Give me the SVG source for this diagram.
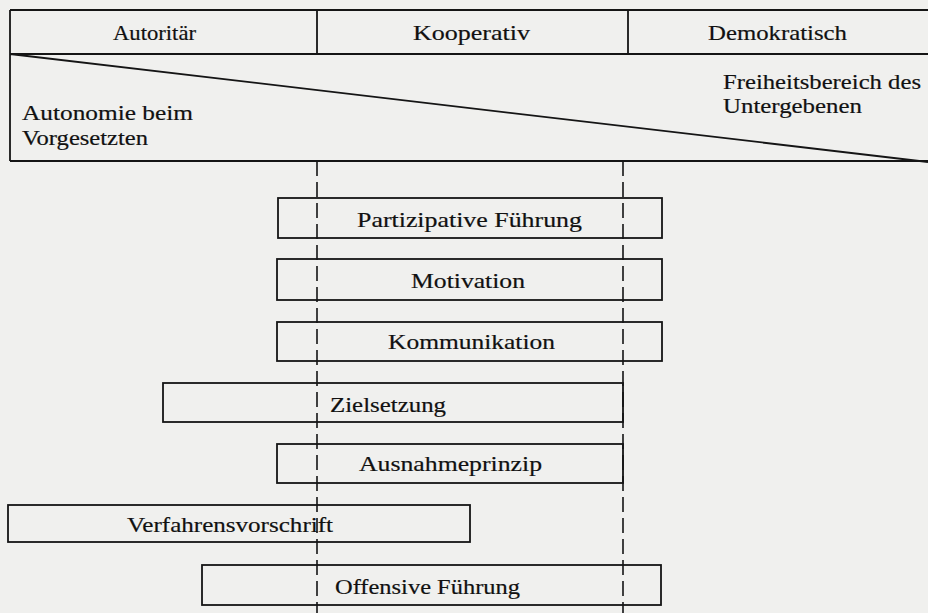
<svg xmlns="http://www.w3.org/2000/svg" width="928" height="613" viewBox="0 0 928 613">
<style>
.ln{stroke:#151515;stroke-width:1.8;fill:none}
.box{stroke:#151515;stroke-width:1.8;fill:none}
.dash{stroke:#151515;stroke-width:1.6;fill:none;stroke-dasharray:15 6}
text{font-family:"Liberation Serif","Times New Roman",serif;font-size:22px;fill:#111;stroke:#111;stroke-width:0.2}
</style>
<rect x="0" y="0" width="928" height="613" fill="#f0f0ee"/>
<g id="frame">
<path class="ln" d="M10,10 H928 M10,54 H928 M10,161 H928 M10,10 V161 M317,10 V54 M628,10 V54 M10,54 L928,162"/>
</g>
<g id="header-autoritaer"><text x="113" y="40" textLength="83" lengthAdjust="spacingAndGlyphs">Autoritär</text></g>
<g id="header-kooperativ"><text x="413" y="40" textLength="117" lengthAdjust="spacingAndGlyphs">Kooperativ</text></g>
<g id="header-demokratisch"><text x="708" y="40" textLength="139" lengthAdjust="spacingAndGlyphs">Demokratisch</text></g>
<g id="label-autonomie">
<text x="22" y="120" textLength="171" lengthAdjust="spacingAndGlyphs">Autonomie beim</text>
<text x="22" y="145" textLength="126" lengthAdjust="spacingAndGlyphs">Vorgesetzten</text>
</g>
<g id="label-freiheit">
<text x="723" y="89" textLength="198" lengthAdjust="spacingAndGlyphs">Freiheitsbereich des</text>
<text x="723" y="113" textLength="139" lengthAdjust="spacingAndGlyphs">Untergebenen</text>
</g>
<g id="connectors">
<line class="dash" x1="317" y1="161" x2="317" y2="613"/>
<line class="dash" x1="623" y1="161" x2="623" y2="613"/>
</g>
<g id="node-partizipative">
<rect class="box" x="278" y="198" width="384" height="40"/>
<text x="357" y="227" textLength="225" lengthAdjust="spacingAndGlyphs">Partizipative Führung</text>
</g>
<g id="node-motivation">
<rect class="box" x="277" y="259" width="385" height="41"/>
<text x="411" y="288" textLength="114" lengthAdjust="spacingAndGlyphs">Motivation</text>
</g>
<g id="node-kommunikation">
<rect class="box" x="277" y="322" width="385" height="39"/>
<text x="388" y="349" textLength="167" lengthAdjust="spacingAndGlyphs">Kommunikation</text>
</g>
<g id="node-zielsetzung">
<rect class="box" x="163" y="383" width="460" height="39"/>
<text x="330" y="412" textLength="116" lengthAdjust="spacingAndGlyphs">Zielsetzung</text>
</g>
<g id="node-ausnahmeprinzip">
<rect class="box" x="277" y="444" width="346" height="39"/>
<text x="359" y="471" textLength="183" lengthAdjust="spacingAndGlyphs">Ausnahmeprinzip</text>
</g>
<g id="node-verfahrensvorschrift">
<rect class="box" x="8" y="505" width="462" height="37"/>
<text x="127" y="532" textLength="206" lengthAdjust="spacingAndGlyphs">Verfahrensvorschrift</text>
</g>
<g id="node-offensive">
<rect class="box" x="202" y="565" width="459" height="40"/>
<text x="335" y="594" textLength="185" lengthAdjust="spacingAndGlyphs">Offensive Führung</text>
</g>
</svg>
